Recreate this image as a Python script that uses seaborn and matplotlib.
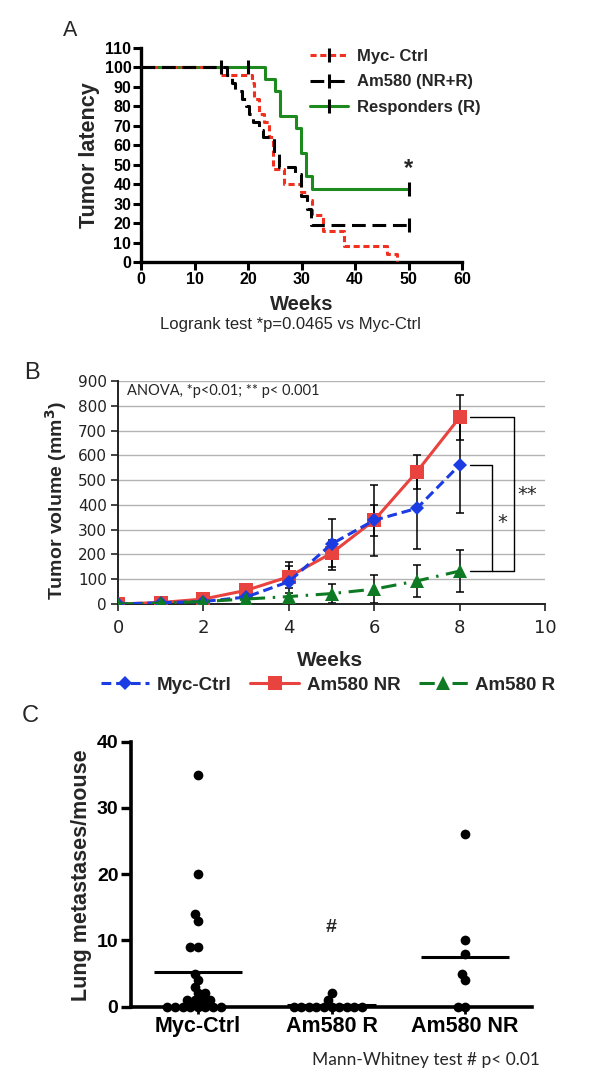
import numpy as np
import pandas as pd
import matplotlib
matplotlib.use("Agg")
import matplotlib.pyplot as plt
import seaborn as sns
from matplotlib.lines import Line2D

sns.set_theme(style="white")
plt.rcParams['font.family'] = ['Liberation Sans', 'DejaVu Sans']

# ---------------- Panel A data (Kaplan-Meier style steps) ----------------
ctrl_weeks = [0, 15, 20.7, 21.2, 22, 23, 24, 24.75, 26.75, 29.9, 31, 32, 34, 38, 46, 47.8]
ctrl_surv = [100, 96, 92, 84, 76, 72, 64, 48, 40, 36, 32, 24, 16, 8, 4, 0]
am_weeks = [0, 16, 17, 17.6, 18.8, 19.7, 20.2, 20.9, 22, 22.75, 24.9, 25.8, 28.7, 29.9, 31, 31.8, 50]
am_surv = [100, 96, 92, 88, 84, 80, 76, 72, 68, 64, 56, 49, 45, 34, 27, 19, 19]
resp_weeks = [0, 23.1, 25, 26, 29, 29.9, 30.9, 32, 50]
resp_surv = [100, 94, 88, 75, 69, 56, 44, 37.5, 37.5]
am_censor_w = [15, 50]
am_censor_s = [100, 19]
resp_censor_w = [20, 50]
resp_censor_s = [100, 37.5]
labels_a = ["Myc- Ctrl", "Am580 (NR+R)", "Responders (R)"]

# ---------------- Panel B data ----------------
weeks_b = [0, 1, 2, 3, 4, 5, 6, 7, 8]
ctrl_vol = [0, 5, 10, 28, 90, 242, 338, 386, 561]
ctrl_err = [0, 2, 5, 10, 80, 103, 143, 165, 193]
nr_vol = [0, 6, 20, 55, 110, 205, 338, 534, 753]
nr_err = [0, 3, 8, 15, 45, 55, 62, 68, 92]
r_vol = [0, 3, 10, 20, 30, 42, 60, 93, 133]
r_err = [0, 2, 5, 8, 15, 38, 57, 66, 84]
labels_b = ["Myc-Ctrl", "Am580 NR", "Am580 R"]

# ---------------- Panel C data ----------------
groups_c = ["Myc-Ctrl", "Am580 R", "Am580 NR"]
mets_ctrl = [35, 20, 14, 13, 9, 9, 5, 4, 3, 2, 2, 1, 1, 1, 1, 0, 0, 0, 0, 0, 0, 0, 0]
mets_r = [2, 1, 0, 0, 0, 0, 0, 0, 0, 0, 0, 0]
mets_nr = [26, 10, 8, 5, 4, 0, 0]

W, H = 600, 1085
fig = plt.figure(figsize=(W / 100, H / 100), dpi=100)


def ax_rect(left, top, right, bottom):
    return [left / W, 1 - bottom / H, (right - left) / W, (bottom - top) / H]


def fpos(x, y):
    return x / W, 1 - y / H


# =============== Panel A ===============
axA = fig.add_axes(ax_rect(141, 48, 462, 262))
red_a, green_a = "#f2301f", "#1d8a1d"
sns.lineplot(x=ctrl_weeks, y=ctrl_surv, ax=axA, drawstyle="steps-post", color=red_a,
             linewidth=2.2, linestyle=(0, (2.0, 1.2)), estimator=None, sort=False, zorder=3)
sns.lineplot(x=am_weeks, y=am_surv, ax=axA, drawstyle="steps-post", color="black",
             linewidth=2.2, linestyle=(0, (4.5, 2.2)), estimator=None, sort=False, zorder=4)
sns.lineplot(x=resp_weeks, y=resp_surv, ax=axA, drawstyle="steps-post", color=green_a,
             linewidth=2.2, estimator=None, sort=False, zorder=2)
sns.scatterplot(x=am_censor_w, y=am_censor_s, ax=axA, marker="|", s=90, color="black",
                linewidth=2.2, zorder=5)
sns.scatterplot(x=resp_censor_w, y=resp_censor_s, ax=axA, marker="|", s=90, color="black",
                linewidth=2.2, zorder=5)
axA.set_xlim(0, 60)
axA.set_ylim(0, 110)
axA.set_xticks(range(0, 61, 10))
axA.set_yticks(range(0, 111, 10))
for s in ["top", "right"]:
    axA.spines[s].set_visible(False)
for s in ["left", "bottom"]:
    axA.spines[s].set_linewidth(2.4)
    axA.spines[s].set_color("black")
axA.tick_params(axis="both", direction="out", length=6, width=2.2, labelsize=11.5,
                pad=1, colors="black", left=True, bottom=True)
for lab in axA.get_xticklabels() + axA.get_yticklabels():
    lab.set_fontweight("bold")
axA.set_xlabel("")
axA.set_ylabel("")
axA.text(50, 42, "*", fontsize=17, fontweight="bold", ha="center", va="bottom")
handles_a = [
    Line2D([], [], color=red_a, lw=2.2, ls=(0, (2.0, 1.2)), marker="|", markersize=10,
           markeredgecolor="black", markeredgewidth=2.2),
    Line2D([], [], color="black", lw=2.2, ls=(0, (4.5, 2.2)), marker="|", markersize=10,
           markeredgecolor="black", markeredgewidth=2.2),
    Line2D([], [], color=green_a, lw=2.2, marker="|", markersize=10,
           markeredgecolor="black", markeredgewidth=2.2),
]
legA = axA.legend(handles_a, labels_a, loc="upper left", bbox_to_anchor=(0.48, 1.065),
                  frameon=False, handlelength=2.3, handletextpad=0.5, labelspacing=0.62,
                  prop={"weight": "bold", "size": 12})
fig.text(*fpos(89, 155), "Tumor latency", rotation=90, ha="center", va="center",
         fontsize=15.5, fontweight="bold")
fig.text(*fpos(302, 304), "Weeks", ha="center", va="center", fontsize=14.5, fontweight="bold")
fig.text(*fpos(290, 325), "Logrank test *p=0.0465 vs Myc-Ctrl", ha="center", va="center",
         fontsize=12)
fig.text(*fpos(70, 30), "A", ha="center", va="center", fontsize=15.5)

# =============== Panel B ===============
axB = fig.add_axes(ax_rect(118, 381, 545, 604))
blue_b, red_b, green_b = "#1b3be3", "#e8433f", "#0e7a23"
axB.set_axisbelow(True)
axB.yaxis.grid(True, color="#b3b3b3", linewidth=1)
axB.xaxis.grid(False)
axB.errorbar(weeks_b, ctrl_vol, yerr=ctrl_err, fmt="none", ecolor="black", elinewidth=1.1,
             capsize=3.2, capthick=1.1, zorder=2)
axB.errorbar(weeks_b, nr_vol, yerr=nr_err, fmt="none", ecolor="black", elinewidth=1.1,
             capsize=3.2, capthick=1.1, zorder=2)
axB.errorbar(weeks_b, r_vol, yerr=r_err, fmt="none", ecolor="black", elinewidth=1.1,
             capsize=3.2, capthick=1.1, zorder=2)
sns.lineplot(x=weeks_b, y=ctrl_vol, ax=axB, color=blue_b, linewidth=2.2,
             linestyle=(0, (3.2, 1.6)), marker="D", markersize=7.5, markeredgewidth=0,
             label=labels_b[0], zorder=4)
sns.lineplot(x=weeks_b, y=nr_vol, ax=axB, color=red_b, linewidth=2.2,
             marker="s", markersize=10, markeredgewidth=0, label=labels_b[1], zorder=3)
sns.lineplot(x=weeks_b, y=r_vol, ax=axB, color=green_b, linewidth=2.2,
             linestyle=(0, (5, 2.5, 0.8, 2.5)), marker="^", markersize=10, markeredgewidth=0,
             label=labels_b[2], zorder=5)
axB.set_xlim(0, 10)
axB.set_ylim(0, 900)
axB.set_xticks(range(0, 11, 2))
axB.set_yticks(range(0, 901, 100))
for s in ["top", "right"]:
    axB.spines[s].set_visible(False)
for s in ["left", "bottom"]:
    axB.spines[s].set_linewidth(1.4)
    axB.spines[s].set_color("#222222")
axB.tick_params(axis="both", direction="out", length=5, width=1.2, colors="#222222",
                left=True, bottom=True)
axB.tick_params(axis="y", labelsize=11, pad=3)
axB.tick_params(axis="x", labelsize=13, pad=6)
for lab in axB.get_xticklabels() + axB.get_yticklabels():
    lab.set_fontfamily("DejaVu Sans")
axB.set_xlabel("")
axB.set_ylabel("")
axB.get_legend().remove()
# significance brackets
xb0, xb1, xb2 = 8.25, 8.77, 9.28
axB.plot([xb0, xb2, xb2, xb0], [nr_vol[-1], nr_vol[-1], r_vol[-1], r_vol[-1]],
         color="black", lw=1, clip_on=False)
axB.plot([xb0, xb1, xb1], [ctrl_vol[-1], ctrl_vol[-1], r_vol[-1]], color="black", lw=1,
         clip_on=False)
axB.text(9.0, 330, "*", fontsize=14, ha="center", va="center", family="DejaVu Sans")
axB.text(9.58, 440, "**", fontsize=14, ha="center", va="center", family="DejaVu Sans")
axB.text(0.02, 0.955, "ANOVA, *p<0.01; ** p< 0.001", transform=axB.transAxes,
         fontsize=10.5, ha="left", va="center", family="Lato")
hB, lB = axB.get_legend_handles_labels()
fig.legend(hB, lB, loc="center", bbox_to_anchor=fpos(328, 685), ncol=3, frameon=False,
           handlelength=2.6, handletextpad=0.4, columnspacing=1.0,
           prop={"weight": "bold", "size": 13.5})
fig.text(*fpos(56, 501), "Tumor volume (mm$^\\mathbf{3}$)", rotation=90, ha="center",
         va="center", fontsize=14, fontweight="bold")
fig.text(*fpos(330, 660), "Weeks", ha="center", va="center", fontsize=15, fontweight="bold")
fig.text(*fpos(32, 373), "B", ha="center", va="center", fontsize=17)

# =============== Panel C ===============
axC = fig.add_axes(ax_rect(131, 741.7, 532, 1006.7))
df_c = pd.DataFrame({
    "group": [groups_c[0]] * len(mets_ctrl) + [groups_c[1]] * len(mets_r)
    + [groups_c[2]] * len(mets_nr),
    "mets": mets_ctrl + mets_r + mets_nr,
})
# layout the swarm with a slightly smaller dot, then enlarge dots so they overlap (Prism style)
sns.swarmplot(data=df_c, x="group", y="mets", order=groups_c, color="black", size=5.2,
              ax=axC, zorder=3)
means_c = df_c.groupby("group")["mets"].mean()
for i, g in enumerate(groups_c):
    axC.hlines(means_c[g], i - 0.33, i + 0.33, color="black", lw=2.2, zorder=4)
axC.set_xlim(-0.5, 2.5)
axC.set_ylim(0, 40)
axC.set_yticks(range(0, 41, 10))
for s in ["top", "right"]:
    axC.spines[s].set_visible(False)
for s in ["left", "bottom"]:
    axC.spines[s].set_linewidth(2.6)
    axC.spines[s].set_color("black")
axC.tick_params(axis="y", direction="out", length=7, width=2.4, labelsize=14, pad=2,
                left=True, colors="black")
axC.tick_params(axis="x", direction="out", length=5, width=2.0, labelsize=15.5, pad=2,
                bottom=True, colors="black")
for lab in axC.get_xticklabels() + axC.get_yticklabels():
    lab.set_fontweight("bold")
axC.set_xlabel("")
axC.set_ylabel("")
axC.text(1, 12, "#", fontsize=14, fontweight="bold", ha="center", va="center")
fig.text(*fpos(81, 875), "Lung metastases/mouse", rotation=90, ha="center", va="center",
         fontsize=15.5, fontweight="bold")
fig.text(*fpos(426, 1060), "Mann-Whitney test # p< 0.01", ha="center", va="center",
         fontsize=12.5, family="Lato")
fig.text(*fpos(30, 716), "C", ha="center", va="center", fontsize=17)

fig.canvas.draw()
for c in axC.collections:
    if "draw" in c.__dict__:
        del c.__dict__["draw"]
    if c.get_offsets().shape[0] > 1:
        c.set_sizes([7.0 ** 2])
    c.set_clip_on(False)

fig.savefig("out.png", dpi=100)
